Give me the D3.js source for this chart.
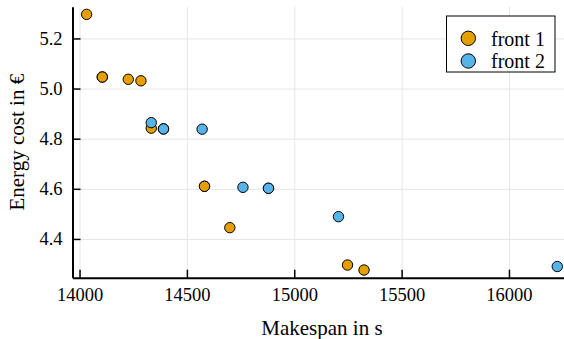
<!DOCTYPE html>
<html>
<head>
<meta charset="utf-8">
<script src="https://cdn.jsdelivr.net/npm/d3@7"></script>
<style>
  html, body { margin: 0; padding: 0; background: #fff; }
  svg { display: block; }
  text { font-family: "Liberation Serif", "DejaVu Serif", serif; fill: #000; }
</style>
</head>
<body>
<svg id="chart" width="564" height="339"></svg>
<script>
// Pareto fronts: makespan (s) vs energy cost (€)
const front1Makespan = [14033, 14106, 14106, 14227, 14286, 14334, 14582, 14582, 14700, 15248, 15325];
const front1Energy   = [5.296, 5.046, 5.046, 5.037, 5.031, 4.842, 4.610, 4.610, 4.445, 4.296, 4.276];
const front2Makespan = [14334, 14391, 14391, 14571, 14761, 14880, 14880, 15206, 16225];
const front2Energy   = [4.864, 4.839, 4.839, 4.838, 4.606, 4.602, 4.602, 4.489, 4.290];

const seriesNames  = ["front 1", "front 2"];
const seriesColors = ["#E69F00", "#56B4E9"];

const xTicks = [14000, 14500, 15000, 15500, 16000];
const yTicks = [4.4, 4.6, 4.8, 5.0, 5.2];

const xLabel = "Makespan in s";
const yLabel = "Energy cost in €";

const series = [
  { name: seriesNames[0], color: seriesColors[0],
    points: front1Makespan.map((m, i) => ({ x: m, y: front1Energy[i] })) },
  { name: seriesNames[1], color: seriesColors[1],
    points: front2Makespan.map((m, i) => ({ x: m, y: front2Energy[i] })) }
];

// plot frame
const plotLeft = 72.5, plotRight = 571.4, plotTop = 6.7, plotBottom = 277.7;

// domains padded by 3% of the data span on each side
function padded(vals) {
  const [lo, hi] = d3.extent(vals);
  const p = (hi - lo) * 0.03;
  return [lo - p, hi + p];
}
const allX = front1Makespan.concat(front2Makespan);
const allY = front1Energy.concat(front2Energy);

const x = d3.scaleLinear().domain(padded(allX)).range([plotLeft, plotRight]);
const y = d3.scaleLinear().domain(padded(allY)).range([plotBottom, plotTop]);

const svg = d3.select("#chart");
svg.append("rect").attr("width", 564).attr("height", 339).attr("fill", "#fff");

// grid
svg.append("g")
  .attr("transform", `translate(0,${plotBottom})`)
  .call(d3.axisBottom(x).tickValues(xTicks).tickSize(-(plotBottom - plotTop)).tickFormat(""))
  .call(g => g.select(".domain").remove())
  .call(g => g.selectAll("line").attr("stroke", "#e6e6e6").attr("stroke-width", 1));
svg.append("g")
  .attr("transform", `translate(${plotLeft},0)`)
  .call(d3.axisLeft(y).tickValues(yTicks).tickSize(-(plotRight - plotLeft)).tickFormat(""))
  .call(g => g.select(".domain").remove())
  .call(g => g.selectAll("line").attr("stroke", "#e6e6e6").attr("stroke-width", 1));

// axes with inward ticks
const xAxis = svg.append("g")
  .attr("transform", `translate(0,${plotBottom})`)
  .call(d3.axisBottom(x).tickValues(xTicks).tickFormat(d3.format("d"))
        .tickSizeInner(-8).tickSizeOuter(0).tickPadding(10.5));
xAxis.select(".domain").attr("stroke", "#000").attr("stroke-width", 2);
xAxis.selectAll(".tick line").attr("stroke", "#000").attr("stroke-width", 1.5);
xAxis.selectAll(".tick text").attr("font-size", 18.5)
  .attr("font-family", "Liberation Serif").attr("fill", "#000");

const yAxis = svg.append("g")
  .attr("transform", `translate(${plotLeft},0)`)
  .call(d3.axisLeft(y).tickValues(yTicks).tickFormat(d3.format(".1f"))
        .tickSizeInner(-8).tickSizeOuter(0).tickPadding(10));
yAxis.select(".domain").attr("stroke", "#000").attr("stroke-width", 2);
yAxis.selectAll(".tick line").attr("stroke", "#000").attr("stroke-width", 1.5);
yAxis.selectAll(".tick text").attr("font-size", 18.5)
  .attr("font-family", "Liberation Serif").attr("fill", "#000");

// markers
series.forEach(s => {
  svg.append("g").selectAll("circle")
    .data(s.points)
    .join("circle")
    .attr("cx", d => x(d.x))
    .attr("cy", d => y(d.y))
    .attr("r", 5.2)
    .attr("fill", s.color)
    .attr("stroke", "#000")
    .attr("stroke-width", 1);
});

// axis titles
svg.append("text")
  .attr("x", (plotLeft + plotRight) / 2).attr("y", 335)
  .attr("text-anchor", "middle").attr("font-size", 21)
  .text(xLabel);
svg.append("text")
  .attr("transform", `translate(24,${(plotTop + plotBottom) / 2}) rotate(-90)`)
  .attr("text-anchor", "middle").attr("font-size", 21)
  .text(yLabel);

// legend
const legend = svg.append("g");
legend.append("rect")
  .attr("x", 446.5).attr("y", 16).attr("width", 108.5).attr("height", 56)
  .attr("fill", "#fff").attr("stroke", "#000").attr("stroke-width", 1);
series.forEach((s, i) => {
  const cy = 38.3 + i * 22.7;
  legend.append("circle")
    .attr("cx", 468.3).attr("cy", cy).attr("r", 7.2)
    .attr("fill", s.color).attr("stroke", "#000").attr("stroke-width", 1);
  legend.append("text")
    .attr("x", 491).attr("y", cy + 7.2)
    .attr("font-size", 20)
    .text(s.name);
});
</script>
</body>
</html>
